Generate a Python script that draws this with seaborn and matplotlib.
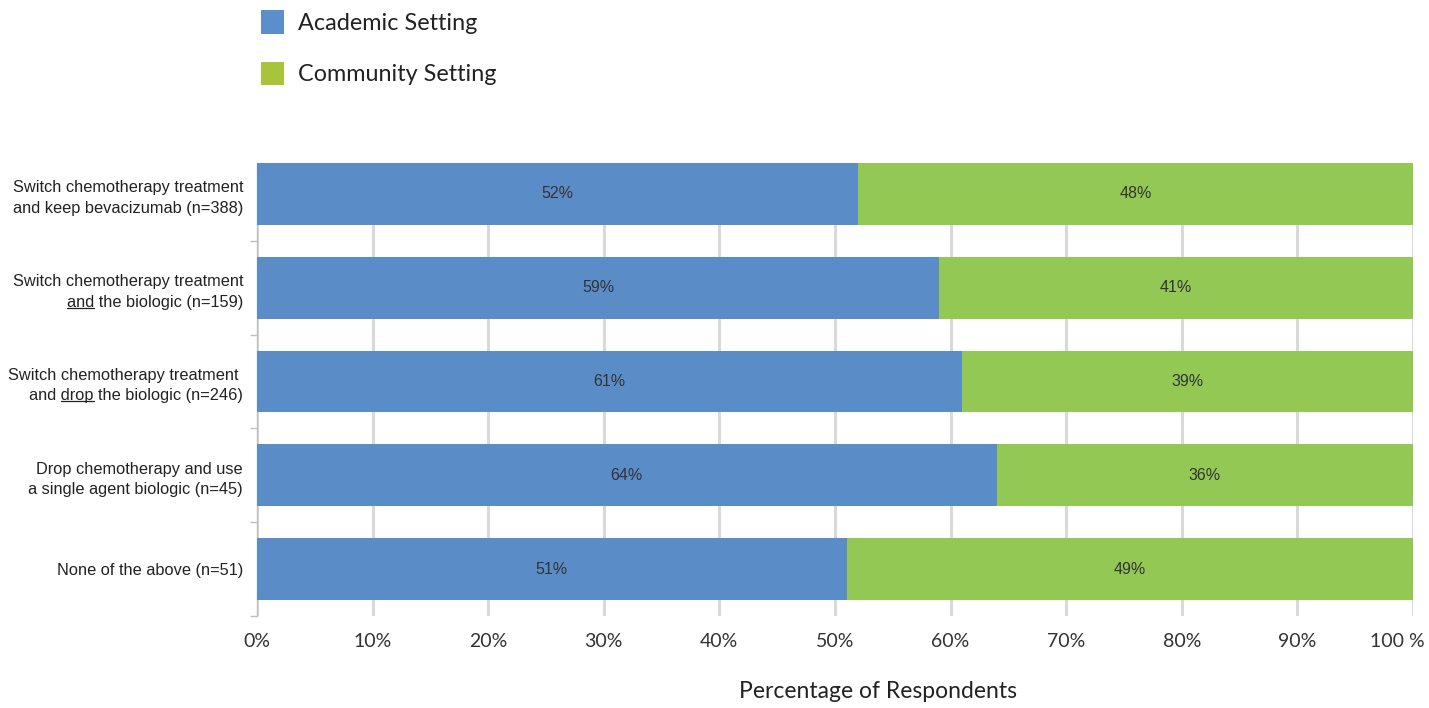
import matplotlib
matplotlib.use("Agg")
import matplotlib.pyplot as plt
from matplotlib.patches import Patch
from matplotlib.lines import Line2D
from matplotlib.transforms import ScaledTranslation
import seaborn as sns
import pandas as pd

# Survey answers (top to bottom)
categories = [
    "Switch chemotherapy treatment\nand keep bevacizumab (n=388)",
    "Switch chemotherapy treatment\nand the biologic (n=159)",
    "Switch chemotherapy treatment \nand drop the biologic (n=246)",
    "Drop chemotherapy and use\na single agent biologic (n=45)",
    "None of the above (n=51)",
]
academic = [52, 59, 61, 64, 51]
community = [48, 41, 39, 36, 49]
series_names = ["Academic Setting", "Community Setting"]
x_ticks = [0, 10, 20, 30, 40, 50, 60, 70, 80, 90, 100]
x_tick_labels = ["0%", "10%", "20%", "30%", "40%", "50%", "60%", "70%", "80%", "90%", "100 %"]
# words underlined inside the category labels: (row, word)
underlined = [(1, "and"), (2, "drop")]

BLUE = "#5A8DC8"
GREEN = "#93C855"
LEGEND_BLUE = "#5B8ECB"
LEGEND_GREEN = "#A8C43B"
GRID = "#D9D9D9"

df = pd.DataFrame({
    "category": categories,
    "academic": academic,
    "total": [a + c for a, c in zip(academic, community)],
})

sns.set_theme(style="white")
plt.rcParams["font.family"] = ["Liberation Sans", "DejaVu Sans"]

fig = plt.figure(figsize=(14.29, 7.08), dpi=100)
ax = fig.add_axes([0.1798, 0.130, 0.8090, 0.6398])

# stacked horizontal bars: full community bar underneath, academic on top
sns.barplot(data=df, x="total", y="category", color=GREEN, width=0.66,
            saturation=1, ax=ax, zorder=3, linewidth=0)
sns.barplot(data=df, x="academic", y="category", color=BLUE, width=0.66,
            saturation=1, ax=ax, zorder=4, linewidth=0)

# value labels inside segments
for i, (a, c) in enumerate(zip(academic, community)):
    ax.text(a / 2, i, f"{a}%", ha="center", va="center", fontsize=11.5,
            color="#333333", zorder=5)
    ax.text(a + c / 2, i, f"{c}%", ha="center", va="center", fontsize=11.5,
            color="#333333", zorder=5)

ax.set_xlim(0, 100)
ax.set_ylim(4.5, -0.33)
ax.set_xticks(x_ticks)
ax.set_xticklabels(x_tick_labels, fontsize=14, color="#333333", family=["Lato", "DejaVu Sans"])
ax.tick_params(axis="x", length=0, pad=12)
# the last label sits a little inside the right edge
last = ax.get_xticklabels()[-1]
last.set_transform(last.get_transform() + ScaledTranslation(-16 / 100, 0, fig.dpi_scale_trans))
ax.xaxis.grid(True, color=GRID, linewidth=2.2, zorder=0)
ax.set_axisbelow(True)

ax.set_ylabel("")
ax.set_yticks(range(len(categories)))
ax.set_yticklabels(categories, fontsize=11.8, color="#222222", linespacing=1.45)
ax.tick_params(axis="y", which="major", length=0, pad=10)
ax.set_yticks([0.5, 1.5, 2.5, 3.5, 4.5], minor=True)
ax.tick_params(axis="y", which="minor", length=5, width=1, color="#BFBFBF", left=True)

for side in ["top", "right", "bottom"]:
    ax.spines[side].set_visible(False)
ax.spines["left"].set_color("#BFBFBF")
ax.spines["left"].set_linewidth(1)

ax.set_xlabel("Percentage of Respondents", fontsize=16.5, color="#222222",
              family=["Lato", "DejaVu Sans"])
ax.xaxis.set_label_coords(0.537, -0.143)

# legend at top-left
handles = [Patch(facecolor=LEGEND_BLUE, edgecolor="none"),
           Patch(facecolor=LEGEND_GREEN, edgecolor="none")]
fig.legend(handles, series_names, loc="upper left", bbox_to_anchor=(0.1676, 1.015),
           frameon=False, handlelength=1.0, handleheight=1.15, handletextpad=0.6,
           labelspacing=1.2, prop={"family": ["Lato", "DejaVu Sans"], "size": 16.8},
           labelcolor="#222222")

# underline the emphasised words in the category labels
fig.canvas.draw()
renderer = fig.canvas.get_renderer()
labels = ax.get_yticklabels()
W, H = fig.bbox.width, fig.bbox.height


def text_width(s, fp):
    # width of s, measured between two guard characters so spaces count
    t = fig.text(0, 0, "|" + s + "|", fontproperties=fp)
    w = t.get_window_extent(renderer).width
    t.set_text("||")
    w -= t.get_window_extent(renderer).width
    t.remove()
    return w


for row, word in underlined:
    lab = labels[row]
    bb = lab.get_window_extent(renderer)
    fp = lab.get_fontproperties()
    line = lab.get_text().split("\n")[-1]
    x0 = bb.x1 - text_width(line, fp)
    start = x0 + text_width(line[:line.index(word)], fp)
    end = start + text_width(word, fp)
    y = bb.y0 + 2.0
    fig.add_artist(Line2D([start / W, end / W], [y / H, y / H],
                          transform=fig.transFigure, color="#222222", linewidth=0.9))

fig.savefig("out.png", dpi=100)
